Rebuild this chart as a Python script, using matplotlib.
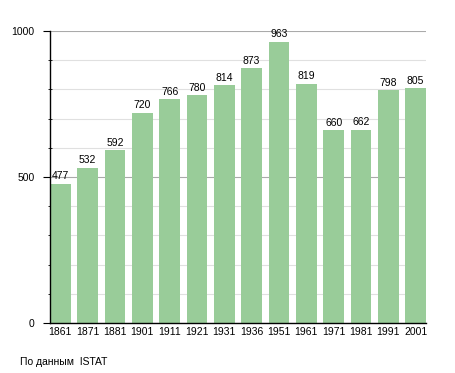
import numpy as np
import matplotlib.pyplot as plt
from matplotlib.ticker import MultipleLocator

# data
years = ["1861", "1871", "1881", "1901", "1911", "1921", "1931",
         "1936", "1951", "1961", "1971", "1981", "1991", "2001"]
population = [477, 532, 592, 720, 766, 780, 814, 873, 963, 819, 660, 662, 798, 805]

plt.rcParams["font.family"] = ["Liberation Sans", "DejaVu Sans"]

fig = plt.figure(figsize=(4.55, 3.73), dpi=100)
ax = fig.add_axes([0.110, 0.134, 0.826, 0.783])

width = 0.75
x = np.arange(len(years))
ax.bar(x, population, width=width, align="edge", color="#99cc99", zorder=2)

for xi, v in zip(x, population):
    ax.text(xi + width / 2, v + 8, str(v), ha="center", va="bottom", fontsize=7.5)

ax.set_xlim(0, len(years) - 1 + width)
ax.set_ylim(0, 1000)
ax.set_xticks(x + width / 2)
ax.set_xticklabels(years, fontsize=7.5)
ax.tick_params(axis="x", length=0, pad=3)

ax.yaxis.set_major_locator(MultipleLocator(500))
ax.yaxis.set_minor_locator(MultipleLocator(100))
ax.tick_params(axis="y", which="major", length=5, labelsize=7.5, pad=6)
ax.tick_params(axis="y", which="minor", length=2.5, direction="inout")
ax.grid(axis="y", which="major", color="#aaaaaa", linewidth=0.8, zorder=0)
ax.grid(axis="y", which="minor", color="#e0e0e0", linewidth=0.8, zorder=0)
ax.set_axisbelow(True)

for s in ["top", "right"]:
    ax.spines[s].set_visible(False)
ax.spines["left"].set_linewidth(1.0)
ax.spines["bottom"].set_linewidth(1.0)

fig.text(20 / 455, 1 - 362 / 373, "По данным  ISTAT", fontsize=7.5, va="center", ha="left")

fig.savefig("out.png", dpi=100)
